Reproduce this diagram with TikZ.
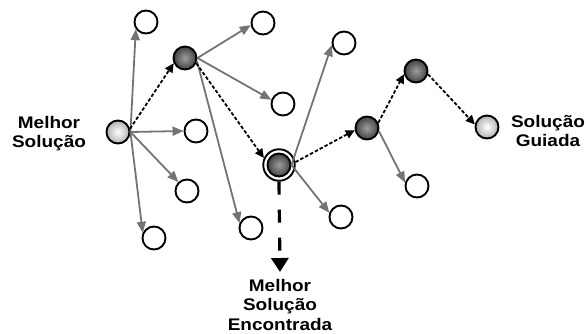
\documentclass[tikz,border=0pt]{standalone}
\usepackage{fontspec}
\setmainfont{Liberation Sans}[FakeStretch=1.13]
\usetikzlibrary{arrows.meta}
\definecolor{edgegrey}{HTML}{747474}
\begin{document}
\begin{tikzpicture}[x=1pt,y=-1pt,
  wnode/.style={circle, draw=black, line width=1.9pt, fill=white, minimum size=23pt, inner sep=0pt},
  dnode/.style={wnode, shading=radial, inner color=black!38, outer color=black!74},
  lnode/.style={wnode, shading=radial, inner color=white, outer color=black!30},
  ringnode/.style={circle, draw=black, line width=1.9pt, fill=white, minimum size=31.5pt, inner sep=0pt},
  gedge/.style={draw=edgegrey, line width=1.8pt, -{Triangle[length=11pt,width=9pt]}},
  dedge/.style={draw=black, line width=1.8pt, dash pattern=on 3.5pt off 2pt, -{Triangle[length=9pt,width=8.5pt]}},
  bigedge/.style={draw=black, line width=3.2pt, dash pattern=on 13pt off 15pt, -{Triangle[length=14pt,width=17pt]}},
  lbl/.style={font=\bfseries\fontsize{16.8}{19.5}\selectfont, align=center, inner sep=0pt, anchor=north}
]
\path[use as bounding box] (0,0) rectangle (586,333);

% nodes
\node[lnode] (start) at (118,132) {};
\node[wnode] (A) at (146,22) {};
\node[dnode] (B) at (185,58) {};
\node[wnode] (C) at (263,23) {};
\node[wnode] (D) at (283,104) {};
\node[wnode] (E) at (196,131) {};
\node[wnode] (F) at (187,191) {};
\node[wnode] (G) at (154,238) {};
\node[wnode] (H) at (251,228) {};
\node[ringnode] (Ir) at (279,165) {};
\node[dnode] (I) at (279,165) {};
\node[wnode] (J) at (344,43) {};
\node[wnode] (K) at (341,217) {};
\node[dnode] (L) at (367,128) {};
\node[wnode] (M) at (417,186) {};
\node[dnode] (N) at (416,71) {};
\node[lnode] (O) at (487,127) {};

% labels
\node[lbl] (lstart) at (49,116) {Melhor\\Solução};
\node[lbl] (lguide) at (548,115) {Solução\\Guiada};
\node[lbl] (lbest) at (280,279) {Melhor\\Solução\\Encontrada};
\coordinate (tip) at (280,272);

% grey edges
\draw[gedge] (start.east) -- (A.215);
\draw[gedge] (start.east) -- (E.west);
\draw[gedge] (start.east) -- (F);
\draw[gedge] (start.east) -- (G.155);
\draw[gedge] (B.east) -- (C.190);
\draw[gedge] (B.east) -- (D.160);
\draw[gedge] (B.-15) -- (H.157);
\draw[gedge] (I.east) -- (J.190);
\draw[gedge] (I.east) -- (K.160);
\draw[gedge] (L.-15) -- (M.164);

% dashed path
\draw[dedge] (start.15) -- (B.205);
\draw[dedge] (B.-25) -- (Ir.155);
\draw[dedge] (Ir.10) -- (L.190);
\draw[dedge] (L.25) -- (N.195);
\draw[dedge] (N.-15) -- (O.168);

% best found
\draw[bigedge] (Ir.south) -- (tip);
\end{tikzpicture}
\end{document}
